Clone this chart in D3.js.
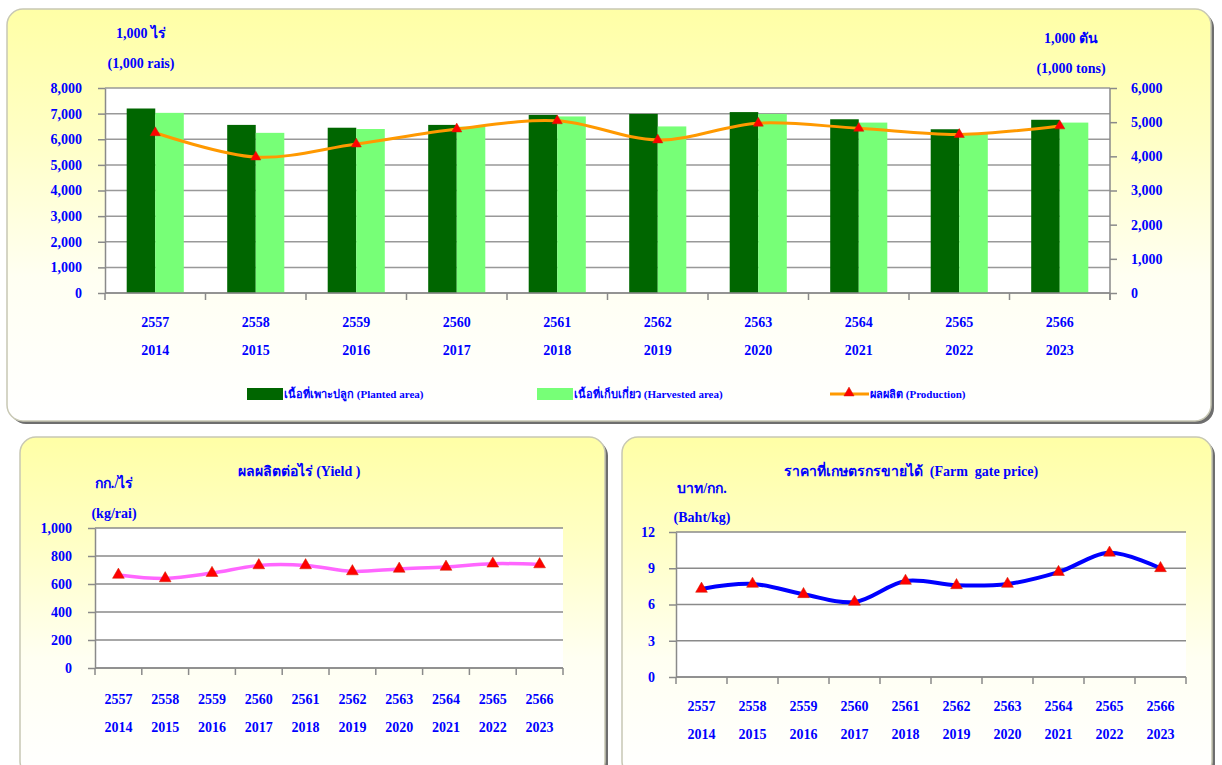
<!DOCTYPE html>
<html>
<head>
<meta charset="utf-8">
<script src="https://cdn.jsdelivr.net/npm/d3@7"></script>
<style>
  body { margin: 0; background: #ffffff; }
  svg text { font-family: "Liberation Serif", "Times New Roman", serif; font-weight: bold; fill: #0000ff; white-space: pre; }
</style>
</head>
<body>
<div id="chart"></div>
<script>
const yearsBE = ["2557", "2558", "2559", "2560", "2561", "2562", "2563", "2564", "2565", "2566"];
const yearsAD = ["2014", "2015", "2016", "2017", "2018", "2019", "2020", "2021", "2022", "2023"];
const planted = [7200, 6560, 6450, 6560, 6950, 6990, 7060, 6780, 6390, 6760];
const harvested = [7030, 6250, 6400, 6490, 6890, 6500, 6990, 6650, 6240, 6650];
const production = [4690, 3980, 4360, 4800, 5040, 4480, 4970, 4820, 4640, 4890];
const yieldKg = [665, 640, 678, 733, 733, 690, 708, 722, 745, 740];
const price = [7.29, 7.70, 6.85, 6.21, 7.95, 7.59, 7.70, 8.68, 10.28, 9.00];

const areaTicks = [0, 1000, 2000, 3000, 4000, 5000, 6000, 7000, 8000];
const prodTicks = [0, 1000, 2000, 3000, 4000, 5000, 6000];
const yieldTicks = [0, 200, 400, 600, 800, 1000];
const priceTicks = [0, 3, 6, 9, 12];

const svg = d3.select("#chart").append("svg")
  .attr("width", 1222)
  .attr("height", 765);

const defs = svg.append("defs");
const grad = defs.append("linearGradient")
  .attr("id", "panelFill")
  .attr("x1", 0).attr("y1", 0).attr("x2", 0).attr("y2", 1);
grad.append("stop").attr("offset", "0%").attr("stop-color", "#ffffa6");
grad.append("stop").attr("offset", "30%").attr("stop-color", "#ffffc4");
grad.append("stop").attr("offset", "65%").attr("stop-color", "#fffff2");
grad.append("stop").attr("offset", "100%").attr("stop-color", "#ffffff");

function panel(x, y, w, h) {
  svg.append("rect")
    .attr("x", x + 3).attr("y", y + 3)
    .attr("width", w).attr("height", h)
    .attr("rx", 16)
    .style("fill", "#6e6e6e");
  svg.append("rect")
    .attr("x", x).attr("y", y)
    .attr("width", w).attr("height", h)
    .attr("rx", 16)
    .style("fill", "url(#panelFill)")
    .style("stroke", "#c8c8b4")
    .style("stroke-width", 1.5);
}

panel(7, 9, 1204, 412);
panel(20, 437, 585, 340);
panel(622, 437, 590, 340);

const fmt = d3.format(",");

function drawAxisStyle(g) {
  g.selectAll("path").style("stroke", "#8a8a8a").style("stroke-width", 1.5);
  g.selectAll("line").style("stroke", "#8a8a8a").style("stroke-width", 1.5);
  g.selectAll("text").style("font-size", "14px").style("fill", "#0000ff");
}

function triangle(g, pts, size) {
  g.selectAll("path.marker")
    .data(pts)
    .enter()
    .append("path")
    .attr("class", "marker")
    .attr("transform", function(d) { return "translate(" + d[0] + "," + d[1] + ")"; })
    .attr("d", d3.symbol().type(d3.symbolTriangle).size(size))
    .style("fill", "#ff0000")
    .style("stroke", "#cc2200")
    .style("stroke-width", 0.5);
}

// ---------- top chart: area + production ----------
const plot = { left: 105, right: 1110, top: 88, bottom: 293 };

const x = d3.scaleBand()
  .domain(yearsBE)
  .range([plot.left, plot.right]);

const xSub = d3.scaleBand()
  .domain(["planted", "harvested"])
  .range([0, x.bandwidth()])
  .paddingOuter(0.76);

const yArea = d3.scaleLinear().domain([0, 8000]).range([plot.bottom, plot.top]);
const yProd = d3.scaleLinear().domain([0, 6000]).range([plot.bottom, plot.top]);

svg.append("rect")
  .attr("x", plot.left).attr("y", plot.top)
  .attr("width", plot.right - plot.left).attr("height", plot.bottom - plot.top)
  .style("fill", "#ffffff");

svg.append("g")
  .selectAll("line")
  .data(areaTicks)
  .enter()
  .append("line")
  .attr("x1", plot.left).attr("x2", plot.right)
  .attr("y1", function(d) { return yArea(d); })
  .attr("y2", function(d) { return yArea(d); })
  .style("stroke", "#999999")
  .style("stroke-width", 1.5);

const rows = yearsBE.map(function(k, i) {
  return { year: k, planted: planted[i], harvested: harvested[i] };
});

svg.append("g")
  .selectAll("rect")
  .data(rows)
  .enter()
  .append("rect")
  .attr("x", function(d) { return x(d.year) + xSub("planted"); })
  .attr("y", function(d) { return yArea(d.planted); })
  .attr("width", xSub.bandwidth())
  .attr("height", function(d) { return plot.bottom - yArea(d.planted); })
  .style("fill", "#006600");

svg.append("g")
  .selectAll("rect")
  .data(rows)
  .enter()
  .append("rect")
  .attr("x", function(d) { return x(d.year) + xSub("harvested"); })
  .attr("y", function(d) { return yArea(d.harvested); })
  .attr("width", xSub.bandwidth())
  .attr("height", function(d) { return plot.bottom - yArea(d.harvested); })
  .style("fill", "#77ff77");

const leftAxis = svg.append("g")
  .attr("transform", "translate(" + plot.left + ",0)")
  .call(d3.axisLeft(yArea).tickValues(areaTicks).tickFormat(fmt).tickSizeInner(7).tickSizeOuter(0).tickPadding(16));
drawAxisStyle(leftAxis);

const rightAxis = svg.append("g")
  .attr("transform", "translate(" + plot.right + ",0)")
  .call(d3.axisRight(yProd).tickValues(prodTicks).tickFormat(fmt).tickSizeInner(7).tickSizeOuter(0).tickPadding(14));
drawAxisStyle(rightAxis);
rightAxis.select("path.domain").remove();
rightAxis.append("line")
  .attr("y1", plot.top).attr("y2", plot.bottom + 7)
  .style("stroke", "#8a8a8a").style("stroke-width", 1.5);

// category boundary ticks on the x axis
function boundaryTicks(scale, yBase) {
  const edges = scale.domain().map(function(d) { return scale(d); }).concat([scale.range()[1]]);
  const g = svg.append("g");
  g.append("line")
    .attr("x1", scale.range()[0]).attr("x2", scale.range()[1])
    .attr("y1", yBase).attr("y2", yBase)
    .style("stroke", "#8a8a8a").style("stroke-width", 1.5);
  g.selectAll("line.tk")
    .data(edges)
    .enter()
    .append("line")
    .attr("class", "tk")
    .attr("x1", function(d) { return d; }).attr("x2", function(d) { return d; })
    .attr("y1", yBase).attr("y2", yBase + 7)
    .style("stroke", "#8a8a8a").style("stroke-width", 1.5);
}

function yearLabels(scale, y1, y2, size) {
  const g = svg.append("g");
  g.selectAll("text.be")
    .data(yearsBE)
    .enter()
    .append("text")
    .attr("x", function(d) { return scale(d) + scale.bandwidth() / 2; })
    .attr("y", y1)
    .attr("dy", "0.35em")
    .style("text-anchor", "middle")
    .style("font-size", size)
    .text(function(d) { return d; });
  g.selectAll("text.ad")
    .data(yearsAD)
    .enter()
    .append("text")
    .attr("x", function(d, i) { return scale(yearsBE[i]) + scale.bandwidth() / 2; })
    .attr("y", y2)
    .attr("dy", "0.35em")
    .style("text-anchor", "middle")
    .style("font-size", size)
    .text(function(d) { return d; });
}

boundaryTicks(x, plot.bottom);
yearLabels(x, 322, 350, "14px");

const prodPts = production.map(function(v, i) {
  return [x(yearsBE[i]) + x.bandwidth() / 2, yProd(v)];
});

svg.append("path")
  .datum(prodPts)
  .attr("d", d3.line().curve(d3.curveCatmullRom))
  .style("fill", "none")
  .style("stroke", "#ff9900")
  .style("stroke-width", 3);

triangle(svg.append("g"), prodPts, 45);

svg.append("text").attr("x", 141).attr("y", 33).attr("dy", "0.35em")
  .style("text-anchor", "middle").style("font-size", "14px").text("1,000 ไร่");
svg.append("text").attr("x", 141).attr("y", 63).attr("dy", "0.35em")
  .style("text-anchor", "middle").style("font-size", "14px").text("(1,000 rais)");
svg.append("text").attr("x", 1071).attr("y", 38).attr("dy", "0.35em")
  .style("text-anchor", "middle").style("font-size", "14px").text("1,000 ตัน");
svg.append("text").attr("x", 1071).attr("y", 68).attr("dy", "0.35em")
  .style("text-anchor", "middle").style("font-size", "14px").text("(1,000 tons)");

// legend
const legend = svg.append("g");
legend.append("rect").attr("x", 247).attr("y", 388).attr("width", 36).attr("height", 12).style("fill", "#006600");
legend.append("text").attr("x", 284).attr("y", 394).attr("dy", "0.35em").style("font-size", "11px")
  .text("เนื้อที่เพาะปลูก (Planted area)");
legend.append("rect").attr("x", 537).attr("y", 388).attr("width", 36).attr("height", 12).style("fill", "#77ff77");
legend.append("text").attr("x", 574).attr("y", 394).attr("dy", "0.35em").style("font-size", "11px")
  .text("เนื้อที่เก็บเกี่ยว (Harvested area)");
legend.append("line").attr("x1", 830).attr("x2", 869).attr("y1", 394).attr("y2", 394)
  .style("stroke", "#ff9900").style("stroke-width", 3);
triangle(legend, [[849, 393]], 45);
legend.append("text").attr("x", 870).attr("y", 394).attr("dy", "0.35em").style("font-size", "11px")
  .text("ผลผลิต (Production)");

// ---------- small line charts ----------
function lineChart(opt) {
  const xs = d3.scaleBand().domain(yearsBE).range([opt.left, opt.right]);
  const ys = d3.scaleLinear().domain([0, opt.max]).range([opt.bottom, opt.top]);

  svg.append("rect")
    .attr("x", opt.left).attr("y", opt.top)
    .attr("width", opt.right - opt.left).attr("height", opt.bottom - opt.top)
    .style("fill", "#ffffff");

  svg.append("g")
    .selectAll("line")
    .data(opt.ticks)
    .enter()
    .append("line")
    .attr("x1", opt.left).attr("x2", opt.right)
    .attr("y1", function(d) { return ys(d); })
    .attr("y2", function(d) { return ys(d); })
    .style("stroke", "#8a8a8a")
    .style("stroke-width", 1.5);

  const ax = svg.append("g")
    .attr("transform", "translate(" + opt.left + ",0)")
    .call(d3.axisLeft(ys).tickValues(opt.ticks).tickFormat(fmt).tickSizeInner(7).tickSizeOuter(0).tickPadding(opt.pad));
  drawAxisStyle(ax);

  boundaryTicks(xs, opt.bottom);
  yearLabels(xs, opt.lab1, opt.lab2, "14px");

  const pts = opt.values.map(function(v, i) {
    return [xs(yearsBE[i]) + xs.bandwidth() / 2, ys(v)];
  });
  svg.append("path")
    .datum(pts)
    .attr("d", d3.line().curve(d3.curveCatmullRom))
    .style("fill", "none")
    .style("stroke", opt.color)
    .style("stroke-width", opt.width);
  triangle(svg.append("g"), pts, 60);

  svg.append("text").attr("x", opt.titleX).attr("y", 471).attr("dy", "0.35em")
    .style("text-anchor", "middle").style("font-size", "14px").text(opt.title);
  svg.append("text").attr("x", opt.unitX).attr("y", opt.unitY1).attr("dy", "0.35em")
    .style("text-anchor", "middle").style("font-size", "14px").text(opt.unit1);
  svg.append("text").attr("x", opt.unitX).attr("y", opt.unitY2).attr("dy", "0.35em")
    .style("text-anchor", "middle").style("font-size", "14px").text(opt.unit2);
}

lineChart({
  left: 95, right: 563, top: 528, bottom: 668, max: 1000,
  ticks: yieldTicks, pad: 16, values: yieldKg,
  color: "#ff66ff", width: 3.5,
  lab1: 699, lab2: 727,
  title: "ผลผลิตต่อไร่ (Yield )", titleX: 299,
  unit1: "กก./ไร่", unit2: "(kg/rai)", unitX: 114, unitY1: 483, unitY2: 513
});

lineChart({
  left: 676, right: 1186, top: 532, bottom: 677, max: 12,
  ticks: priceTicks, pad: 14, values: price,
  color: "#0000ff", width: 4,
  lab1: 706, lab2: 734,
  title: "ราคาที่เกษตรกรขายได้  (Farm  gate price)", titleX: 911,
  unit1: "บาท/กก.", unit2: "(Baht/kg)", unitX: 702, unitY1: 488, unitY2: 517
});
</script>
</body>
</html>
